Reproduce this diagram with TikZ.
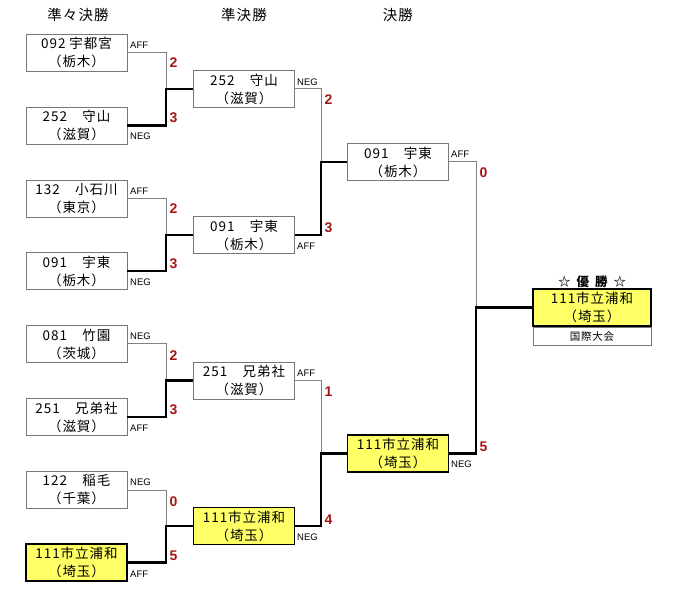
\documentclass[tikz,border=0pt]{standalone}
\usepackage{fontspec}
\setmainfont{Noto Sans CJK JP}[LetterSpace=7]
\newfontfamily\arialf{Liberation Sans}
\definecolor{boxgray}{RGB}{120,120,120}
\definecolor{linegray}{RGB}{130,130,130}
\definecolor{yel}{RGB}{255,255,102}
\definecolor{scorered}{RGB}{165,20,20}
\tikzset{
  team/.style={draw=boxgray, line width=0.9pt, fill=white, minimum width=101pt, minimum height=37pt,
    inner sep=0pt, align=center, font=\fontsize{13.5}{18}\selectfont},
  champ/.style={team, draw=black, line width=1.6pt, fill=yel},
  lose/.style={draw=linegray, line width=1pt},
  win/.style={draw=black, line width=2.6pt},
  side/.style={anchor=west, inner sep=0pt, font=\arialf\fontsize{9.5}{10}\selectfont},
  score/.style={inner sep=0pt, text=scorered, font=\arialf\bfseries\fontsize{14}{14}\selectfont},
  head/.style={inner sep=0pt, font=\fontsize{14.5}{15}\selectfont}
}
\begin{document}
\begin{tikzpicture}[x=1pt,y=-1pt]
\useasboundingbox (0,0) rectangle (680,593);
% headers
\node[head] (h1) at (78,15) {準々決勝};
\node[head] (h2) at (244,15) {準決勝};
\node[head] (h3) at (398,15) {決勝};
% quarterfinal boxes
\node[team] (q1) at (76.5,52.5) {092 宇都宮\\（栃木）};
\node[team] (q2) at (76.5,125.5) {252　守山\\（滋賀）};
\node[team] (q3) at (76.5,199) {132　小石川\\（東京）};
\node[team] (q4) at (76.5,271) {091　宇東\\（栃木）};
\node[team] (q5) at (76.5,344) {081　竹園\\（茨城）};
\node[team] (q6) at (76.5,417) {251　兄弟社\\（滋賀）};
\node[team] (q7) at (76.5,490) {122　稲毛\\（千葉）};
\node[champ] (q8) at (76.5,562.5) {111市立浦和\\（埼玉）};
% semifinal boxes
\node[team] (s1) at (244,89) {252　守山\\（滋賀）};
\node[team] (s2) at (244,235) {091　宇東\\（栃木）};
\node[team] (s3) at (244,380.5) {251　兄弟社\\（滋賀）};
\node[champ] (s4) at (244,526) {111市立浦和\\（埼玉）};
% final boxes
\node[team] (f1) at (398,162) {091　宇東\\（栃木）};
\node[champ] (f2) at (398,453.5) {111市立浦和\\（埼玉）};
% winner
\node[champ, minimum width=118pt] (w) at (592,307.5) {111市立浦和\\（埼玉）};
\node[draw=boxgray, line width=0.9pt, minimum width=118pt, minimum height=18pt, inner sep=0pt,
  anchor=north, font=\fontsize{10.5}{11}\selectfont] (wc) at (w.south) {国際大会};
\node[inner sep=0pt, font=\bfseries\fontsize{12.5}{13}\selectfont] (wt) at (592,281.5) {☆\hspace{6pt}優\hspace{6pt}勝\hspace{6pt}☆};
% junctions
\coordinate (j1) at (166,89);
\coordinate (j2) at (166,235);
\coordinate (j3) at (166,380.5);
\coordinate (j4) at (166,526);
\coordinate (k1) at (321,162);
\coordinate (k2) at (321,453.5);
\coordinate (m1) at (476,307.5);
% quarterfinal connectors
\draw[lose] (q1.east) -| (j1);
\draw[win] (q2.east) -| (j1) -- (s1.west);
\draw[lose] (q3.east) -| (j2);
\draw[win] (q4.east) -| (j2) -- (s2.west);
\draw[lose] (q5.east) -| (j3);
\draw[win] (q6.east) -| (j3) -- (s3.west);
\draw[lose] (q7.east) -| (j4);
\draw[win] (q8.east) -| (j4) -- (s4.west);
% semifinal connectors
\draw[lose] (s1.east) -| (k1);
\draw[win] (s2.east) -| (k1) -- (f1.west);
\draw[lose] (s3.east) -| (k2);
\draw[win] (s4.east) -| (k2) -- (f2.west);
% final connectors
\draw[lose] (f1.east) -| (m1);
\draw[win] (f2.east) -| (m1) -- (w.west);
% side labels
\node[side] (l1) at (130,45) {AFF};
\node[side] (l2) at (130,136) {NEG};
\node[side] (l3) at (130,191) {AFF};
\node[side] (l4) at (130,282) {NEG};
\node[side] (l5) at (130,336) {NEG};
\node[side] (l6) at (130,428) {AFF};
\node[side] (l7) at (130,482) {NEG};
\node[side] (l8) at (130,574) {AFF};
\node[side] (l9) at (297,82) {NEG};
\node[side] (l10) at (297,246) {AFF};
\node[side] (l11) at (297,373) {AFF};
\node[side] (l12) at (297,537) {NEG};
\node[side] (l13) at (451,154) {AFF};
\node[side] (l14) at (451,464) {NEG};
% scores
\node[score] (c1) at (173.5,63) {2};
\node[score] (c2) at (173.5,118) {3};
\node[score] (c3) at (173.5,209) {2};
\node[score] (c4) at (173.5,264) {3};
\node[score] (c5) at (173.5,356) {2};
\node[score] (c6) at (173.5,410) {3};
\node[score] (c7) at (173.5,502) {0};
\node[score] (c8) at (173.5,556) {5};
\node[score] (c9) at (328.5,100) {2};
\node[score] (c10) at (328.5,228) {3};
\node[score] (c11) at (328.5,392) {1};
\node[score] (c12) at (328.5,520) {4};
\node[score] (c13) at (483.5,173) {0};
\node[score] (c14) at (483.5,447) {5};
\end{tikzpicture}
\end{document}
